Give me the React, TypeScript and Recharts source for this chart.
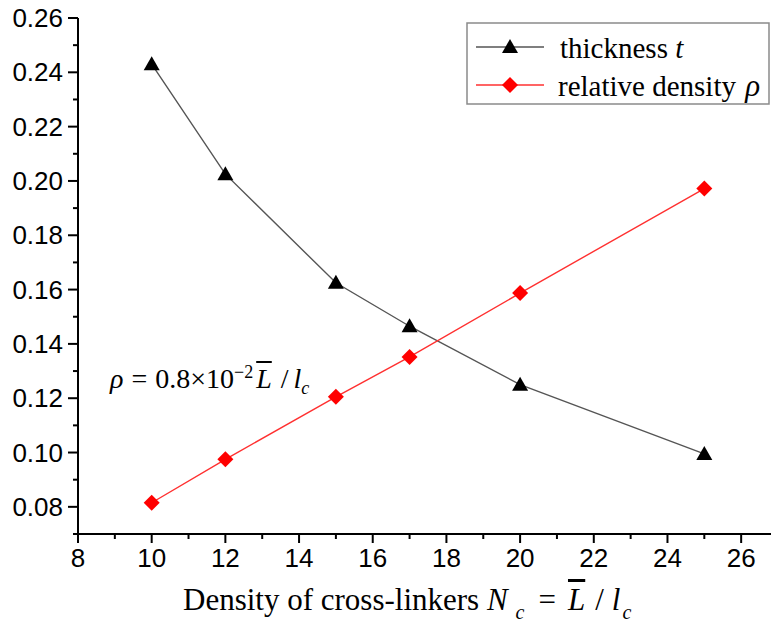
import React from "react";
import { LineChart, Line, XAxis, YAxis } from "recharts";

// density of cross-linkers N_c
const crossLinkers = [10, 12, 15, 17, 20, 25];
const thicknessValues = [0.243, 0.2025, 0.1625, 0.1465, 0.125, 0.0995];
const densityValues = [0.0815, 0.0975, 0.1205, 0.1352, 0.1587, 0.1972];

const xTicks = [8, 9, 10, 11, 12, 13, 14, 15, 16, 17, 18, 19, 20, 21, 22, 23, 24, 25, 26];
const yTicks = [
  0.07, 0.08, 0.09, 0.1, 0.11, 0.12, 0.13, 0.14, 0.15, 0.16, 0.17, 0.18, 0.19, 0.2, 0.21,
  0.22, 0.23, 0.24, 0.25, 0.26,
];
const topTicks = [1, 2, 3, 4, 5, 6, 7, 8, 9];
const rightTicks = [1, 2, 3, 4];

const data = crossLinkers.map((n, i) => ({
  n,
  thickness: thicknessValues[i],
  density: densityValues[i],
}));

const sans = "'Liberation Sans', Arial, sans-serif";
const serif = "'Liberation Serif', 'Times New Roman', serif";
const tickFont = 26;

const BottomTick = (props: any) => {
  const { x, y, payload } = props;
  const major = payload.value % 2 === 0;
  return (
    <g>
      <line x1={x} x2={x} y1={y} y2={y + (major ? 9 : 5)} stroke="#000" strokeWidth={2} />
      {major && (
        <text x={x} y={y + 33} textAnchor="middle" fontFamily={sans} fontSize={tickFont} fill="#000">
          {payload.value}
        </text>
      )}
    </g>
  );
};

const LeftTick = (props: any) => {
  const { x, y, payload } = props;
  const major = Math.round(payload.value * 100) % 2 === 0;
  return (
    <g>
      <line x1={x} x2={x - (major ? 10 : 5)} y1={y} y2={y} stroke="#000" strokeWidth={2} />
      {major && (
        <text x={x - 15} y={y + 9} textAnchor="end" fontFamily={sans} fontSize={tickFont} fill="#000">
          {payload.value.toFixed(2)}
        </text>
      )}
    </g>
  );
};

const TopTick = (props: any) => {
  const { x, y } = props;
  return <line x1={x} x2={x} y1={y} y2={y + 9} stroke="#000" strokeWidth={2} />;
};

const RightTick = (props: any) => {
  const { x, y } = props;
  return <line x1={x} x2={x - 9} y1={y} y2={y} stroke="#000" strokeWidth={2} />;
};

const TriangleDot = (props: any) => {
  const { cx, cy, index } = props;
  return (
    <polygon
      key={`t-${index}`}
      points={`${cx},${cy - 8} ${cx - 8},${cy + 6} ${cx + 8},${cy + 6}`}
      fill="#000"
    />
  );
};

const DiamondDot = (props: any) => {
  const { cx, cy, index } = props;
  return (
    <polygon
      key={`d-${index}`}
      points={`${cx},${cy - 8} ${cx + 8},${cy} ${cx},${cy + 8} ${cx - 8},${cy}`}
      fill="#ff0000"
    />
  );
};

const sub = (size: number, drop: number, ml: number): React.CSSProperties => ({
  fontSize: size,
  fontStyle: "italic",
  verticalAlign: -drop,
  marginLeft: ml,
});

export default function App() {
  return (
    <div
      style={{
        position: "absolute",
        left: 0,
        top: 0,
        width: 771,
        height: 631,
        overflow: "hidden",
        background: "#fff",
      }}
    >
      <LineChart width={790} height={631} data={data} margin={{ top: 18, right: 12, bottom: 0, left: 0 }}>
        <XAxis
          xAxisId="bottom"
          dataKey="n"
          type="number"
          domain={[8, 27]}
          ticks={xTicks}
          interval={0}
          height={97}
          tickSize={0}
          tickMargin={0}
          tick={<BottomTick />}
          axisLine={{ stroke: "#000", strokeWidth: 2 }}
        />
        <XAxis
          xAxisId="top"
          orientation="top"
          type="number"
          domain={[0, 10]}
          ticks={topTicks}
          interval={0}
          height={0}
          tickSize={0}
          tickMargin={0}
          tick={<TopTick />}
          axisLine={{ stroke: "#000", strokeWidth: 2 }}
        />
        <YAxis
          yAxisId="left"
          type="number"
          domain={[0.07, 0.26]}
          ticks={yTicks}
          interval={0}
          width={78}
          tickSize={0}
          tickMargin={0}
          tick={<LeftTick />}
          axisLine={{ stroke: "#000", strokeWidth: 2 }}
        />
        <YAxis
          yAxisId="right"
          orientation="right"
          type="number"
          domain={[0, 5]}
          ticks={rightTicks}
          interval={0}
          width={0}
          tickSize={0}
          tickMargin={0}
          tick={<RightTick />}
          axisLine={{ stroke: "#000", strokeWidth: 2 }}
        />
        <Line
          xAxisId="bottom"
          yAxisId="left"
          dataKey="thickness"
          stroke="#555"
          strokeWidth={1.4}
          dot={TriangleDot}
          isAnimationActive={false}
        />
        <Line
          xAxisId="bottom"
          yAxisId="left"
          dataKey="density"
          stroke="#ff3030"
          strokeWidth={1.4}
          dot={DiamondDot}
          isAnimationActive={false}
        />
      </LineChart>

      {/* legend */}
      <svg width={304} height={83} style={{ position: "absolute", left: 466, top: 22 }}>
        <rect x={1} y={1} width={302} height={81} fill="#fff" stroke="#8a8a8a" strokeWidth={1.5} />
        <line x1={10} x2={78} y1={25} y2={25} stroke="#555" strokeWidth={1.4} />
        <polygon points="44,17 36,31 52,31" fill="#000" />
        <text x={94} y={36} fontFamily={serif} fontSize={29} fill="#000">
          thickness <tspan fontStyle="italic">t</tspan>
        </text>
        <line x1={10} x2={78} y1={63} y2={63} stroke="#ff3030" strokeWidth={1.4} />
        <polygon points="44,55 52,63 44,71 36,63" fill="#ff0000" />
        <text x={92} y={74} fontFamily={serif} fontSize={29} fill="#000">
          relative density <tspan fontStyle="italic" fontSize={31} dx={2}>ρ</tspan>
        </text>
      </svg>

      {/* formula annotation */}
      <div
        style={{
          position: "absolute",
          left: 110,
          top: 363,
          fontFamily: serif,
          fontSize: 28,
          whiteSpace: "nowrap",
          lineHeight: 1,
        }}
      >
        <i>ρ</i>
        <span style={{ margin: "0 8px" }}>=</span>
        0.8×10
        <span style={{ fontSize: 18, verticalAlign: 10 }}>−2</span>
        <i style={{ textDecoration: "overline", marginLeft: 3 }}>L</i>
        <span style={{ margin: "0 5px 0 9px" }}>/</span>
        <i>l</i>
        <span style={sub(18, 6, 0)}>c</span>
      </div>

      {/* x-axis title */}
      <div
        style={{
          position: "absolute",
          left: 183,
          top: 584,
          fontFamily: serif,
          fontSize: 31,
          whiteSpace: "nowrap",
          lineHeight: 1,
        }}
      >
        {"Density of cross-linkers "}
        <i>N</i>
        <span style={sub(20, 9, 8)}>c</span>
        <span style={{ margin: "0 12px 0 14px" }}>=</span>
        <i style={{ textDecoration: "overline" }}>L</i>
        <span style={{ margin: "0 8px 0 10px" }}>/</span>
        <i>l</i>
        <span style={sub(20, 9, 2)}>c</span>
      </div>
    </div>
  );
}
